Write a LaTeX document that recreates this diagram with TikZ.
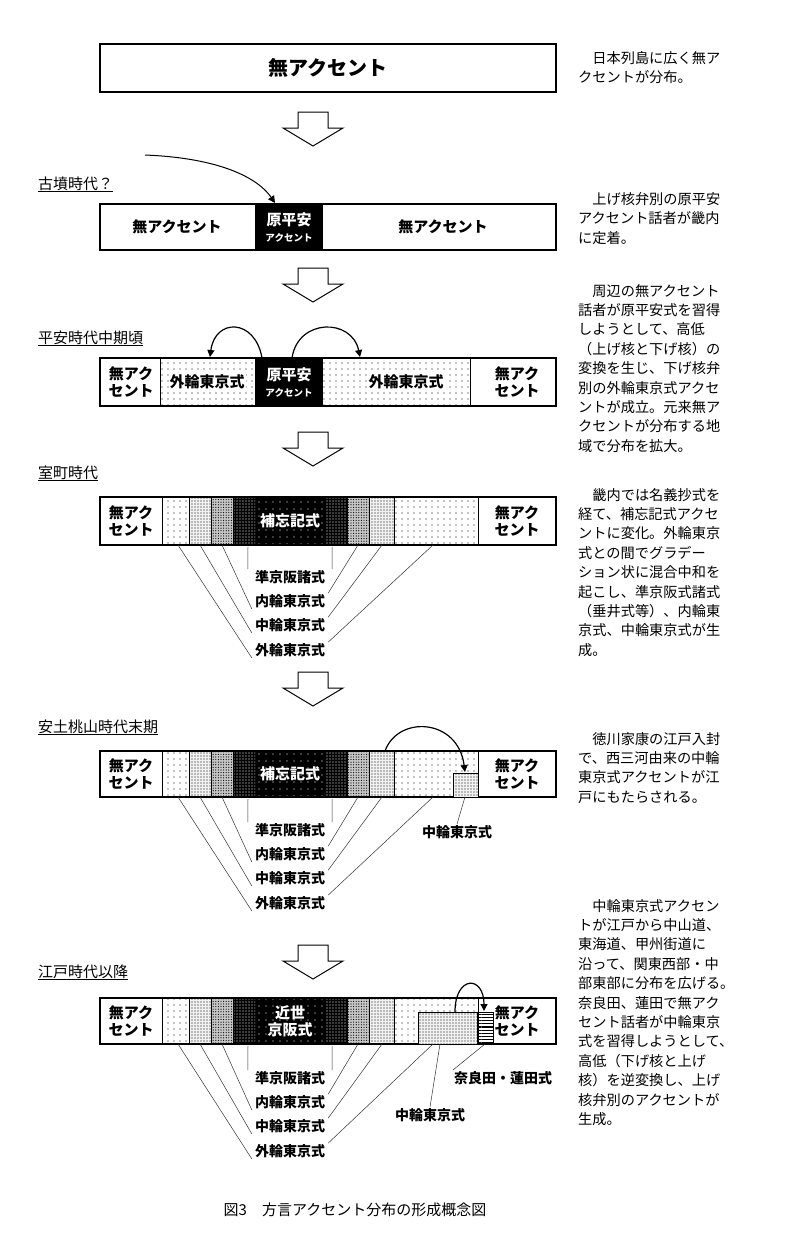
\documentclass[tikz,border=0pt]{standalone}
\usepackage{fontspec}
\setmainfont{Noto Sans CJK JP}
\usetikzlibrary{patterns.meta,arrows.meta}
\tikzset{
 sparse/.style={pattern={Dots[radius=0.6pt,distance=6pt]}},
 medium/.style={fill=gray!10,postaction={pattern={Dots[radius=0.55pt,distance=3pt]}}},
 dense/.style={fill=gray!45,postaction={pattern={Dots[radius=0.6pt,distance=2.6pt]}}},
 darkd/.style={fill=black,postaction={pattern={Dots[radius=0.6pt,distance=3pt]},pattern color=white}},
 blackd/.style={fill=black,postaction={pattern={Dots[radius=0.5pt,distance=7pt]},pattern color=white}},
 stripes/.style={pattern={Lines[angle=0,distance=3.2pt,line width=1.2pt]}},
 barframe/.style={draw,line width=1.3pt},
 divl/.style={line width=1pt},
 bt/.style={font=\bfseries\fontsize{15}{17}\selectfont,align=center,inner sep=0pt},
 wt/.style={bt,text=white},
 lab/.style={font=\bfseries\fontsize{14}{16}\selectfont,inner sep=1pt},
 ldr/.style={line width=0.5pt,draw=black!80},
 era/.style={font=\fontsize{15}{17}\selectfont,anchor=base west,inner sep=0pt},
 note/.style={font=\fontsize{14.2}{19.4}\selectfont,align=left,anchor=north west,inner sep=0pt},
 hol/.style={draw,line width=1pt,fill=white},
 arc/.style={line width=1.2pt,-{Triangle[length=7pt,width=7pt]}}
}
\newcommand\holarrow[1]{\draw[hol] (298,#1) -- (328,#1) -- (328,#1+16) -- (343,#1+16) -- (313,#1+34) -- (283,#1+16) -- (298,#1+16) -- cycle;}
\newcommand\wdots[5]{\begin{scope}\clip (#1,#2) rectangle (#3,#4);\path[pattern={Dots[radius=0.6pt,distance=#5]},pattern color=white] (#1,#2) rectangle (#3,#4);\end{scope}}
\newcommand\mainbar[3]{
 \path[sparse] (162,#1) rectangle (189,#2);
 \path[medium] (189,#1) rectangle (211,#2);
 \path[dense] (211,#1) rectangle (233,#2);
 \fill (233,#1) rectangle (347,#2);
 \wdots{233}{#1}{255}{#2}{3pt}
 \wdots{325}{#1}{347}{#2}{3pt}
 \wdots{255}{#1}{325}{#2}{7pt}
 \path[dense] (347,#1) rectangle (369,#2);
 \path[medium] (369,#1) rectangle (394,#2);
 \path[sparse] (394,#1) rectangle (478,#2);
 \foreach \xx in {162,189,211,233,347,369,394,478} {\draw[divl] (\xx,#1) -- (\xx,#2);}
 \draw[barframe] (100,#1) rectangle (556,#2);
 \node[bt] (#3l) at (131,{(#1+#2)/2}) {無アク\\セント};
 \node[bt] (#3r) at (517,{(#1+#2)/2}) {無アク\\セント};
}
\newcommand\labset[3]{
 \node[lab] (#2a) at (290,#1) {準京阪諸式};
 \node[lab] (#2b) at (290,#1+24) {内輪東京式};
 \node[lab] (#2c) at (290,#1+48) {中輪東京式};
 \node[lab] (#2d) at (290,#1+73) {外輪東京式};
 \draw[ldr] (178,#3) -- ([xshift=-2pt]#2d.south west);
 \draw[ldr] (433,#3) -- ([xshift=2pt]#2d.north east);
 \draw[ldr] (200,#3) -- ([xshift=-2pt]#2c.south west);
 \draw[ldr] (382,#3) -- ([xshift=2pt]#2c.north east);
 \draw[ldr] (222,#3) -- ([xshift=-2pt]#2b.south west);
 \draw[ldr] (358,#3) -- ([xshift=2pt]#2b.north east);
 \draw[ldr] (248,#3+2) -- ([xshift=-6pt]#2a.north west);
 \draw[ldr] (332,#3+2) -- ([xshift=6pt]#2a.north east);
}
\begin{document}
\begin{tikzpicture}[x=1pt,y=-1pt]
\useasboundingbox[fill=white] (0,0) rectangle (800,1251);

\draw[barframe] (100,44) rectangle (556,92);
\node[bt,font=\bfseries\fontsize{20}{22}\selectfont] (b1) at (328,68) {無アクセント};
\holarrow{112}

\node[era] (e1) at (38,189) {\underline{古墳時代？}};
\fill (255,204) rectangle (323,250);
\draw[barframe] (100,204) rectangle (556,250);
\node[bt] (b2l) at (177,227) {無アクセント};
\node[bt] (b2r) at (443,227) {無アクセント};
\node[wt] (b2c) at (289,227) {原平安\\[-1pt]{\fontsize{9.5}{10}\selectfont アクセント}};
\coordinate (c0) at (145,155);
\coordinate (c1) at (275,203);
\draw[line width=1pt,-{Triangle[length=7pt,width=7pt]}] (c0) .. controls (220,158) and (258,178) .. (c1);
\holarrow{268}

\node[era] (e2) at (38,343) {\underline{平安時代中期頃}};
\path[sparse] (160,358) rectangle (255,406);
\path[sparse] (323,358) rectangle (470,406);
\fill (255,358) rectangle (323,406);
\foreach \xx in {160,470} {\draw[divl] (\xx,358) -- (\xx,406);}
\draw[barframe] (100,358) rectangle (556,406);
\node[bt] (b3l) at (131,382) {無アク\\セント};
\node[bt] (b3r) at (517,382) {無アク\\セント};
\node[bt,fill=white,inner sep=1pt] (b3a) at (207,382) {外輪東京式};
\node[bt,fill=white,inner sep=1pt] (b3b) at (406,382) {外輪東京式};
\node[wt] (b3c) at (289,382) {原平安\\[-1pt]{\fontsize{9.5}{10}\selectfont アクセント}};
\coordinate (p1) at (262,358); \coordinate (p2) at (210,357);
\coordinate (p3) at (292,358); \coordinate (p4) at (360,357);
\draw[arc] (p1) .. controls (255,318) and (215,318) .. (p2);
\draw[arc] (p3) .. controls (298,318) and (352,318) .. (p4);
\holarrow{432}

\node[era] (e3) at (38,478) {\underline{室町時代}};
\mainbar{497}{545}{m}
\node[wt] (mc) at (290,521) {補忘記式};
\labset{577}{ml}{545}
\holarrow{672}

\node[era] (e4) at (38,732) {\underline{安土桃山時代末期}};
\mainbar{751}{797}{a}
\node[wt] (ac) at (290,774) {補忘記式};
\path[medium] (453,773) rectangle (478,797);
\draw[line width=0.8pt] (453,797) -- (453,773) -- (478,773);
\coordinate (q1) at (385,751); \coordinate (q2) at (465,772);
\draw[arc] (q1) .. controls (398,715) and (458,718) .. (q2);
\labset{830}{al}{797}
\node[lab] (an) at (457,832) {中輪東京式};
\draw[ldr] (465,797) -- (an.north);
\holarrow{945}

\node[era] (e5) at (38,977) {\underline{江戸時代以降}};
\mainbar{998}{1044}{d}
\node[wt] (dc) at (290,1021) {近世\\京阪式};
\path[medium] (418,1012) rectangle (477,1044);
\path[stripes] (477,1012) rectangle (493,1044);
\draw[line width=0.8pt] (418,1044) -- (418,1012) -- (493,1012) -- (493,1044);
\draw[line width=0.8pt] (477,1012) -- (477,1044);
\coordinate (r1) at (455,1012); \coordinate (r2) at (484,1011);
\draw[arc] (r1) .. controls (455,975) and (484,975) .. (r2);
\labset{1078}{dl}{1044}
\node[lab] (dn1) at (503,1078) {奈良田・蓮田式};
\node[lab] (dn2) at (430,1115) {中輪東京式};
\draw[ldr] (485,1044) -- (dn1.north west);
\draw[ldr] (440,1044) -- (dn2.north);

\node[note] (n1) at (578,51) {　日本列島に広く無ア\\クセントが分布。};
\node[note] (n2) at (578,192) {　上げ核弁別の原平安\\アクセント話者が畿内\\に定着。};
\node[note] (n3) at (578,284) {　周辺の無アクセント\\話者が原平安式を習得\\しようとして、高低\\（上げ核と下げ核）の\\変換を生じ、下げ核弁\\別の外輪東京式アクセ\\ントが成立。元来無ア\\クセントが分布する地\\域で分布を拡大。};
\node[note] (n4) at (578,488) {　畿内では名義抄式を\\経て、補忘記式アクセ\\ントに変化。外輪東京\\式との間でグラデー\\ション状に混合中和を\\起こし、準京阪式諸式\\（垂井式等）、内輪東\\京式、中輪東京式が生\\成。};
\node[note] (n5) at (578,732) {　徳川家康の江戸入封\\で、西三河由来の中輪\\東京式アクセントが江\\戸にもたらされる。};
\node[note] (n6) at (578,899) {　中輪東京式アクセン\\トが江戸から中山道、\\東海道、甲州街道に\\沿って、関東西部・中\\部東部に分布を広げる。\\奈良田、蓮田で無アク\\セント話者が中輪東京\\式を習得しようとして、\\高低（下げ核と上げ\\核）を逆変換し、上げ\\核弁別のアクセントが\\生成。};

\node[font=\fontsize{15}{17}\selectfont] (cap) at (355,1210) {図3　方言アクセント分布の形成概念図};
\end{tikzpicture}
\end{document}
